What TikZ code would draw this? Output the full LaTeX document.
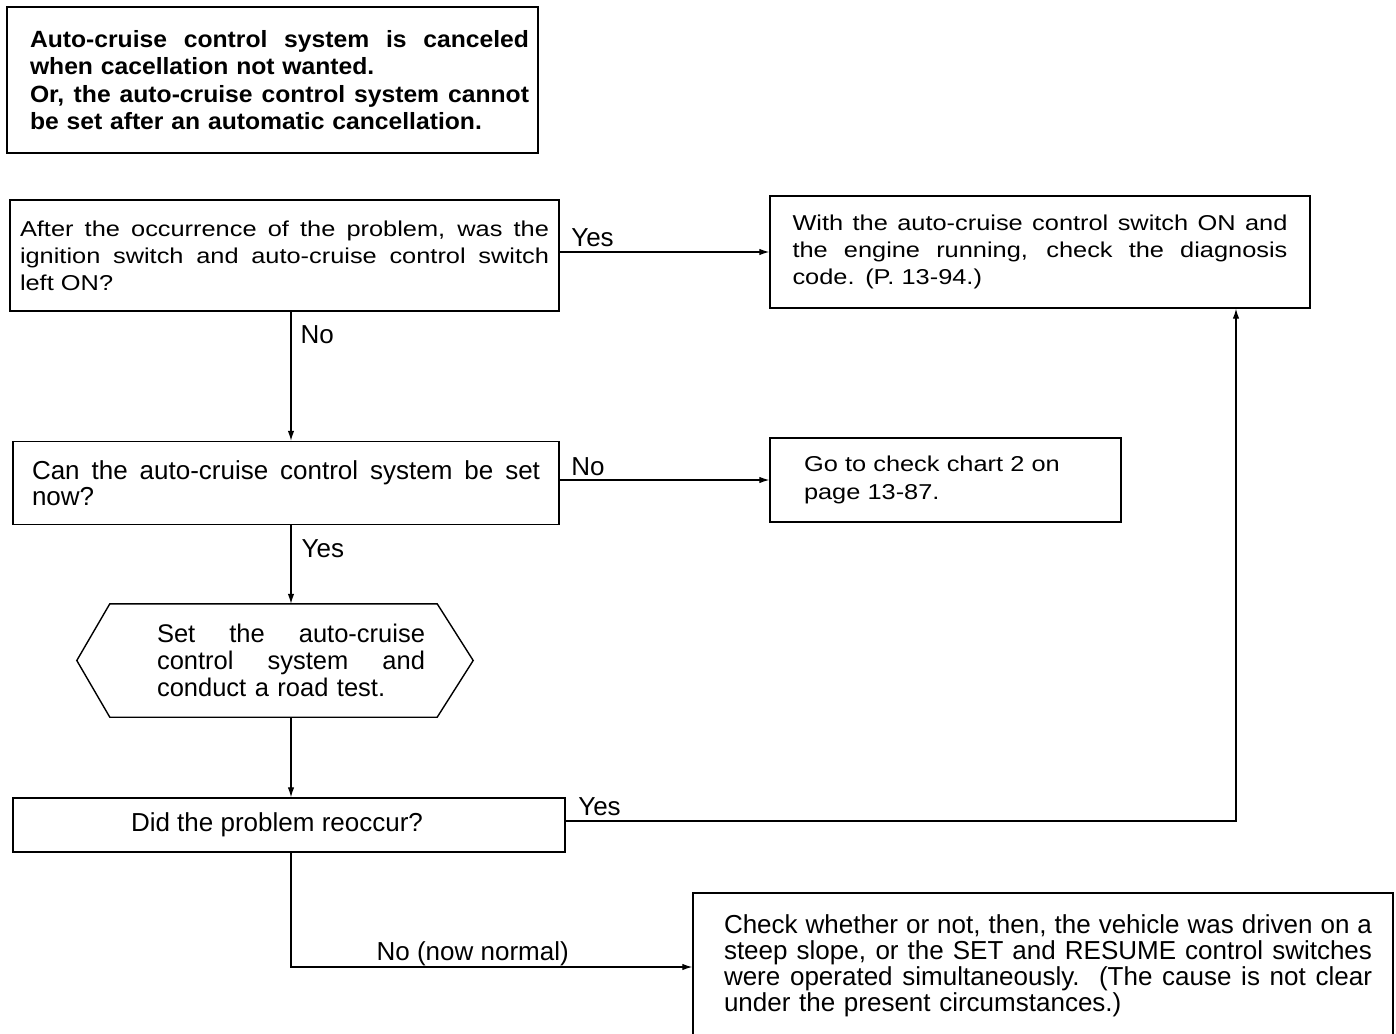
\documentclass[tikz,border=0pt]{standalone}
\usepackage{fontspec}
\setmainfont{Liberation Sans}
\newfontfamily\widefont[FakeStretch=1.18]{Liberation Sans}
\newfontfamily\headfont[FakeStretch=1.05]{Liberation Sans}
\usetikzlibrary{arrows.meta}
% one line spread to a given width, the extra room shared by its word spaces
\newcommand{\jl}[2]{\leavevmode\hbox to #1{\spaceskip=\fontdimen2\font plus 1fil\relax
  \xspaceskip=\spaceskip #2}}

\begin{document}
\begin{tikzpicture}[x=1pt,y=-1pt,
  box/.style={draw, line width=1.4pt, inner sep=0pt, align=left},
  plain/.style={font=\fontsize{26}{25.5}\selectfont},
  wide/.style={font=\widefont\fontsize{21.5}{27}\selectfont},
  conn/.style={line width=1.2pt},
  arr/.style={conn, -{Latex[length=10pt,width=6.5pt]}},
  lbl/.style={inner sep=0pt, font=\fontsize{26}{26}\selectfont}]

\useasboundingbox (0,0) rectangle (1396,1033);
\fill[white] (0,0) rectangle (1396,1033);

% heading
\node[box, minimum width=531pt, minimum height=146pt, text width=513pt,
      font=\headfont\bfseries\fontsize{23.5}{27.3}\selectfont] (title) at (272.5,80)
  {\hspace*{14pt}\jl{499pt}{Auto-cruise control system is canceled}\\
   \hspace*{14pt}when cacellation not wanted.\\
   \hspace*{14pt}\jl{499pt}{Or, the auto-cruise control system cannot}\\
   \hspace*{14pt}be set after an automatic cancellation.};

% questions and actions
\node[box, wide, minimum width=549pt, minimum height=111pt, text width=529pt] (q1) at (284.5,255.5)
  {\jl{529pt}{After the occurrence of the problem, was the}\\
   \jl{529pt}{ignition switch and auto-cruise control switch}\\
   left ON?};

\node[box, wide, minimum width=540pt, minimum height=112pt, text width=495pt] (q2) at (1040,252)
  {\jl{495pt}{With the auto-cruise control switch ON and}\\
   \jl{495pt}{the engine running, check the diagnosis}\\
   code. (P. 13-94.)};

\node[box, plain, minimum width=546pt, minimum height=83pt, text width=508pt] (q3) at (286,483)
  {\jl{508pt}{Can the auto-cruise control system be set}\\
   now?};

\node[box, minimum width=351pt, minimum height=84pt, text width=283pt,
      font=\widefont\fontsize{21.5}{28}\selectfont] (q4) at (945.5,480)
  {Go to check chart 2 on\\
   page 13-87.};

\node[inner sep=0pt, align=left, text width=268pt, minimum height=113pt,
      font=\fontsize{25.5}{27}\selectfont] (hex) at (291,660.5)
  {\jl{268pt}{Set the auto-cruise}\\
   \jl{268pt}{control system and}\\
   conduct a road test.};
\draw[line width=1.4pt] ([xshift=-47pt]hex.north west) -- ([xshift=12pt]hex.north east)
  -- ([xshift=48pt]hex.east) -- ([xshift=12pt]hex.south east)
  -- ([xshift=-47pt]hex.south west) -- ([xshift=-80pt]hex.west) -- cycle;

\node[box, plain, align=center, minimum width=552pt, minimum height=54pt] (q5) at (289,825)
  {\hspace*{-24pt}Did the problem reoccur?};

\node[box, minimum width=700pt, minimum height=146pt, text width=658pt,
      font=\fontsize{26}{26}\selectfont] (q6) at (1043,966)
  {\hspace*{10pt}\jl{648pt}{Check whether or not, then, the vehicle was driven on a}\\
   \hspace*{10pt}\jl{648pt}{steep slope, or the SET and RESUME control switches}\\
   \hspace*{10pt}\jl{648pt}{were operated simultaneously.\ \ (The cause is not clear}\\
   \hspace*{10pt}under the present circumstances.)};

% connectors
\draw[arr] (q2.west -| q1.east) -- (q2.west)
  node[lbl, pos=0, anchor=base west, xshift=11pt, yshift=6pt] {Yes};

\draw[arr] (q1.south -| hex.north) -- (q3.north -| hex.north)
  node[lbl, pos=0, anchor=base west, xshift=9pt, yshift=-31.5pt] {No};

\draw[arr] (q4.west -| q3.east) -- (q4.west)
  node[lbl, pos=0, anchor=base west, xshift=11pt, yshift=4.5pt] {No};

\draw[arr] (q3.south -| hex.north) -- (hex.north)
  node[lbl, pos=0, anchor=base west, xshift=10pt, yshift=-32.5pt] {Yes};

\draw[arr] (hex.south) -- (q5.north -| hex.south);

\draw[arr] ([yshift=4pt]q5.east) -| ([xshift=196pt]q2.south)
  node[lbl, pos=0, anchor=base west, xshift=12pt, yshift=5.5pt] {Yes};

\draw[arr] (q5.south -| hex.south) |- ([yshift=-1pt]q6.west)
  node[lbl, pos=0.5, anchor=base west, xshift=85pt, yshift=6.5pt] {No (now normal)};

\end{tikzpicture}
\end{document}
